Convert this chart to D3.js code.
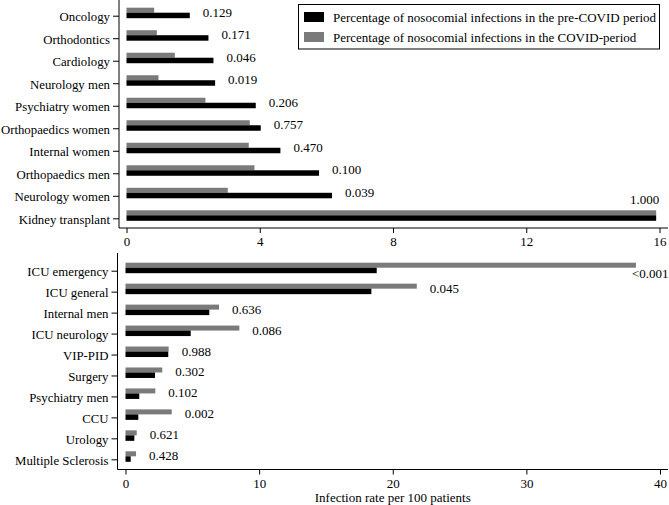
<!DOCTYPE html>
<html><head><meta charset="utf-8">
<script src="https://cdn.jsdelivr.net/npm/d3@7"></script>
<style>body{margin:0;background:#fff}svg{display:block}</style>
</head><body>
<svg id="chart" width="669" height="505" font-family="Liberation Serif"></svg>
<script>
const topCats = ["Oncology","Orthodontics","Cardiology","Neurology men","Psychiatry women","Orthopaedics women","Internal women","Orthopaedics men","Neurology women","Kidney transplant"];
const topPre = [1.9,2.46,2.61,2.66,3.88,4.03,4.62,5.78,6.17,15.9];
const topCovid = [0.83,0.91,1.45,0.96,2.37,3.70,3.67,3.84,3.04,15.9];
const topP = ["0.129","0.171","0.046","0.019","0.206","0.757","0.470","0.100","0.039","1.000"];
const topTicks = [0,4,8,12,16];

const botCats = ["ICU emergency","ICU general","Internal men","ICU neurology","VIP-PID","Surgery","Psychiatry men","CCU","Urology","Multiple Sclerosis"];
const botPre = [18.8,18.4,6.27,4.88,3.2,2.21,1.03,0.96,0.66,0.39];
const botCovid = [38.2,21.8,7.0,8.52,3.23,2.75,2.23,3.46,0.84,0.79];
const botP = ["<0.001","0.045","0.636","0.086","0.988","0.302","0.102","0.002","0.621","0.428"];
const botTicks = [0,10,20,30,40];

const seriesNames = ["Percentage of nosocomial infections in the pre-COVID period","Percentage of nosocomial infections in the COVID-period"];
const colors = ["#000000","#7a7a7a"];
const xTitle = "Infection rate per 100 patients";

const FONT = "Liberation Serif";
const svg = d3.select("#chart");

function panel(cats, pre, covid, pv, ticks, xDomain, xRange, yRange, axisY, axisX, top0) {
  const x = d3.scaleLinear().domain(xDomain).range(xRange);
  const y = d3.scalePoint().domain(cats).range(yRange);
  const g = svg.append("g");
  g.selectAll("rect.c").data(cats).join("rect")
    .attr("x", x(0)).attr("y", d => y(d) - 8)
    .attr("width", (d,i) => x(covid[i]) - x(0)).attr("height", 5)
    .attr("fill", colors[1]);
  g.selectAll("rect.p").data(cats).join("rect")
    .attr("x", x(0)).attr("y", d => y(d) - 3)
    .attr("width", (d,i) => x(pre[i]) - x(0)).attr("height", 5.5)
    .attr("fill", colors[0]);
  g.selectAll("text.pv").data(cats).join("text")
    .attr("font-family", FONT).attr("font-size", 13)
    .each(function(d,i){
      const end = x(Math.max(pre[i], covid[i]));
      const t = d3.select(this).text(pv[i]);
      if (end + 45 > 665) {
        if (i === cats.length - 1) { t.attr("x", end + 3).attr("y", y(d) - 14).attr("text-anchor","end"); }
        else { t.attr("x", end - 4).attr("y", y(d) + 7).attr("text-anchor","start"); }
      } else {
        t.attr("x", end + 13).attr("y", y(d) + 1);
      }
    });
  const ya = g.append("g").attr("transform", `translate(${axisX},0)`)
    .call(d3.axisLeft(y).tickSize(6).tickPadding(3));
  ya.attr("font-family", FONT).attr("font-size", 12.8);
  ya.select(".domain").attr("d", `M0,${top0}V${axisY}`).attr("stroke","#000");
  ya.selectAll("text").attr("fill","#000").attr("dy","0.38em");
  const xa = g.append("g").attr("transform", `translate(0,${axisY})`)
    .call(d3.axisBottom(x).tickValues(ticks).tickSize(5).tickPadding(4).tickFormat(d3.format("d")));
  xa.attr("font-family", FONT).attr("font-size", 13);
  xa.select(".domain").attr("d", `M${axisX},0H668`).attr("stroke","#000");
  xa.selectAll("text").attr("fill","#000");
  return {x, y};
}

panel(topCats, topPre, topCovid, topP, topTicks, [0,16], [126.5,659.5], [15.7,218.3], 228, 119, 0);
const b = panel(botCats, botPre, botCovid, botP, botTicks, [0,40], [125.5,660], [270.7,459.3], 469.5, 117.5, 253);

svg.append("text").attr("x", (b.x(0)+b.x(40))/2).attr("y", 502).attr("text-anchor","middle")
  .attr("font-family", FONT).attr("font-size", 13).text(xTitle);

const lg = svg.append("g");
lg.append("rect").attr("x",298.5).attr("y",4.5).attr("width",361).attr("height",44.5)
  .attr("fill","#fff").attr("stroke","#000").attr("stroke-width",1);
seriesNames.forEach((s,i) => {
  lg.append("rect").attr("x",304).attr("y",12 + i*20).attr("width",20).attr("height",10).attr("fill",colors[i]);
  lg.append("text").attr("x",333).attr("y",21.5 + i*20).attr("font-family", FONT).attr("font-size",13).text(s);
});
</script>
</body></html>
